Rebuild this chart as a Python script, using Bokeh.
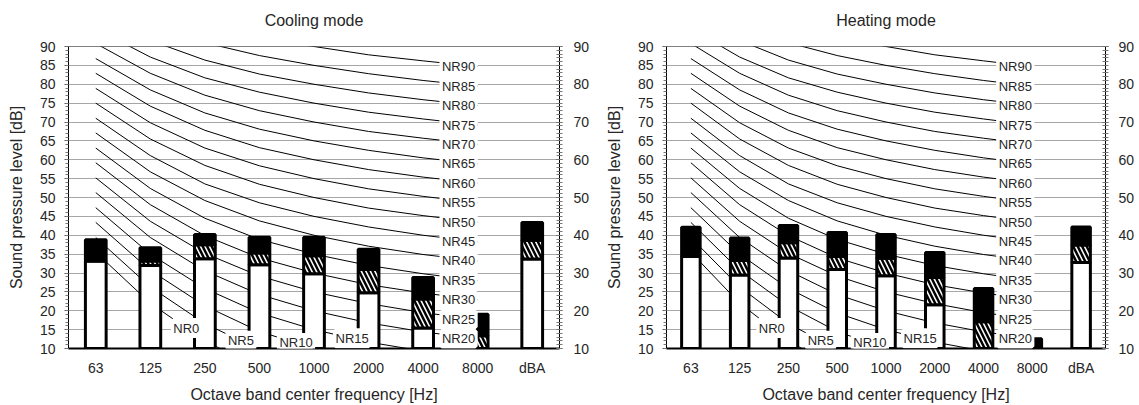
import numpy as np
from bokeh.plotting import figure
from bokeh.layouts import row
from bokeh.models import (FactorRange, Range1d, LinearAxis, SingleIntervalTicker,
                          ColumnDataSource, LabelSet, Title)
from bokeh.core.properties import value
from bokeh.embed import file_html
from bokeh.resources import INLINE

# ---------------- data ----------------
bands = ["63", "125", "250", "500", "1000", "2000", "4000", "8000", "dBA"]
octave_bands = ["63", "125", "250", "500", "1000", "2000", "4000", "8000"]

# Cooling mode: white part top, hatched part top, black part top [dB]
cool_low = [33.2, 32.0, 33.8, 32.2, 29.8, 24.8, 15.4, 10.0, 33.7]
cool_mid = [33.2, 33.2, 37.5, 35.3, 34.6, 30.9, 23.1, 13.4, 38.7]
cool_high = [38.8, 36.7, 40.2, 39.5, 39.5, 36.3, 28.8, 19.1, 43.4]

# Heating mode
heat_low = [34.4, 29.5, 34.0, 30.9, 29.3, 21.6, 10.0, 10.0, 32.8]
heat_mid = [34.4, 33.3, 38.0, 34.4, 33.9, 28.8, 17.1, 10.0, 37.4]
heat_high = [42.1, 39.3, 42.6, 40.7, 40.2, 35.4, 25.9, 12.6, 42.2]

# NR curves (octave band levels 63 Hz ... 8 kHz)
nr_levels = [0, 5, 10, 15, 20, 25, 30, 35, 40, 45, 50, 55, 60, 65, 70, 75, 80, 85, 90]
nr0 = [35.5, 22.0, 12.0, 4.8, 0.0, -3.5, -6.1, -8.0]
nr5 = [39.4, 26.3, 16.6, 9.7, 5.0, 1.6, -1.0, -2.8]
nr10 = [43.4, 30.7, 21.3, 14.5, 10.0, 6.6, 4.2, 2.3]
nr15 = [47.3, 35.0, 25.9, 19.4, 15.0, 11.7, 9.3, 7.4]
nr20 = [51.3, 39.4, 30.6, 24.3, 20.0, 16.8, 14.4, 12.6]
nr25 = [55.2, 43.7, 35.2, 29.2, 25.0, 21.9, 19.5, 17.7]
nr30 = [59.2, 48.1, 39.9, 34.0, 30.0, 26.9, 24.7, 22.9]
nr35 = [63.1, 52.4, 44.5, 38.9, 35.0, 32.0, 29.8, 28.0]
nr40 = [67.1, 56.8, 49.2, 43.8, 40.0, 37.1, 34.9, 33.2]
nr45 = [71.0, 61.1, 53.6, 48.6, 45.0, 42.2, 40.0, 38.3]
nr50 = [75.0, 65.5, 58.5, 53.5, 50.0, 47.2, 45.2, 43.5]
nr55 = [78.9, 69.8, 63.1, 58.4, 55.0, 52.3, 50.3, 48.6]
nr60 = [82.9, 74.2, 67.8, 63.2, 60.0, 57.4, 55.4, 53.8]
nr65 = [86.8, 78.5, 72.4, 68.1, 65.0, 62.5, 60.5, 58.9]
nr70 = [90.8, 82.9, 77.1, 73.0, 70.0, 67.5, 65.7, 64.1]
nr75 = [94.7, 87.2, 81.7, 77.9, 75.0, 72.6, 70.8, 69.2]
nr80 = [98.7, 91.6, 86.4, 82.7, 80.0, 77.7, 75.9, 74.4]
nr85 = [102.6, 95.9, 91.0, 87.6, 85.0, 82.8, 81.0, 79.5]
nr90 = [106.6, 100.3, 95.7, 92.5, 90.0, 87.8, 86.2, 84.7]
nr_curves = [nr0, nr5, nr10, nr15, nr20, nr25, nr30, nr35, nr40, nr45,
             nr50, nr55, nr60, nr65, nr70, nr75, nr80, nr85, nr90]

# label placement (categorical synthetic coordinates)
low_label_x = [2.16, 3.16, 4.17, 5.20]   # NR0..NR15
high_label_x = 7.15                      # NR20..NR90

FONT = "Liberation Sans"
TXT = "#262626"
Y0, Y1 = 10, 90


def make_panel(title, low, mid, high, width, height, mb, xl_standoff, xa_standoff,
               ra_standoff, title_gap):
    p = figure(x_range=FactorRange(*bands), y_range=Range1d(Y0, Y1),
               width=width, height=height, output_backend="svg",
               toolbar_location=None, title=None,
               min_border_left=mb[0], min_border_right=mb[1],
               min_border_top=mb[2], min_border_bottom=mb[3])
    p.background_fill_color = "white"
    p.border_fill_color = "white"
    p.outline_line_color = "#808080"

    # title: an empty spacer panel next to the frame, then the title text
    p.add_layout(Title(text=" ", text_font_size="1px", standoff=title_gap), "above")
    p.add_layout(Title(text=title, align="center", text_font=FONT,
                       text_font_size="16px", text_font_style="normal",
                       text_color=TXT, standoff=0), "above")

    # y axis (left)
    ya = p.yaxis[0]
    ya.ticker = SingleIntervalTicker(interval=5, num_minor_ticks=5)
    ya.axis_label = "Sound pressure level [dB]"
    ya.axis_label_text_font = FONT
    ya.axis_label_text_font_size = "16px"
    ya.axis_label_text_font_style = "normal"
    ya.axis_label_text_color = TXT
    ya.axis_label_standoff = 12
    ya.major_label_text_font = FONT
    ya.major_label_text_font_size = "14px"
    ya.major_label_text_color = TXT
    ya.major_label_standoff = 9
    ya.axis_line_color = "black"
    ya.major_tick_line_color = "#555555"
    ya.minor_tick_line_color = "#777777"
    ya.major_tick_in = 0
    ya.major_tick_out = 4
    ya.minor_tick_in = 0
    ya.minor_tick_out = 3

    # right axis
    ra = LinearAxis(ticker=SingleIntervalTicker(interval=10, num_minor_ticks=10))
    ra.major_label_text_font = FONT
    ra.major_label_text_font_size = "14px"
    ra.major_label_text_color = TXT
    ra.major_label_standoff = ra_standoff
    ra.axis_line_color = "black"
    ra.major_tick_line_color = "#555555"
    ra.minor_tick_line_color = "#777777"
    ra.major_tick_in = 3
    ra.major_tick_out = 3
    ra.minor_tick_in = 3
    ra.minor_tick_out = 3
    p.add_layout(ra, "right")

    # x axis
    xa = p.xaxis[0]
    xa.axis_label = "Octave band center frequency [Hz]"
    xa.axis_label_text_font = FONT
    xa.axis_label_text_font_size = "16px"
    xa.axis_label_text_font_style = "normal"
    xa.axis_label_text_color = TXT
    xa.axis_label_standoff = xa_standoff
    xa.major_label_text_font = FONT
    xa.major_label_text_font_size = "14px"
    xa.major_label_text_color = TXT
    xa.major_label_standoff = xl_standoff
    xa.major_tick_line_color = None
    xa.minor_tick_line_color = None
    xa.major_tick_out = 0
    xa.minor_tick_out = 0
    xa.major_tick_in = 0
    xa.minor_tick_in = 0
    xa.axis_line_color = "black"
    xa.axis_line_width = 2

    p.xgrid.grid_line_color = None
    p.ygrid.ticker = SingleIntervalTicker(interval=5)
    p.ygrid.grid_line_color = "#a6a6a6"
    p.ygrid.grid_line_width = 1

    # NR curves
    for vals in nr_curves:
        p.line(x=octave_bands, y=vals, line_color="black", line_width=1)

    # bars: white (bottom), hatched (middle), black (top)
    src = ColumnDataSource(dict(band=bands, base=[Y0] * len(bands),
                                low=low, mid=mid, high=high))
    bw = 0.38
    p.vbar(x="band", bottom="base", top="low", width=bw, source=src,
           fill_color="white", line_color="black", line_width=3)
    p.vbar(x="band", bottom="low", top="mid", width=bw, source=src,
           fill_color="white", hatch_pattern="\\", hatch_color="black",
           hatch_weight=2.5, hatch_scale=9, line_color="black", line_width=3)
    p.vbar(x="band", bottom="mid", top="high", width=bw, source=src,
           fill_color="black", line_color="black", line_width=3)

    # NR labels
    oct_x = np.arange(len(octave_bands)) + 0.5
    lx, ly, lt = [], [], []
    for lev, vals, xx in zip(nr_levels[:4], nr_curves[:4], low_label_x):
        lx.append(xx)
        ly.append(float(np.interp(xx, oct_x, vals)))
        lt.append("NR%d" % lev)
    for lev, vals in zip(nr_levels[4:], nr_curves[4:]):
        lx.append(high_label_x)
        ly.append(vals[-1])
        lt.append("NR%d" % lev)
    lsrc = ColumnDataSource(dict(x=lx, y=ly, t=lt))
    labels = LabelSet(x="x", y="y", text="t", source=lsrc,
                      text_align="center", text_baseline="middle",
                      text_font=value(FONT), text_font_size=value("13px"),
                      text_color=value(TXT),
                      background_fill_color=value("white"),
                      border_line_color=value("white"), border_line_width=value(5))
    p.add_layout(labels)
    return p


p1 = make_panel("Cooling mode", cool_low, cool_mid, cool_high,
                width=596, height=405, mb=(68, 37, 46, 57),
                xl_standoff=11, xa_standoff=7, ra_standoff=11, title_gap=15)
p2 = make_panel("Heating mode", heat_low, heat_mid, heat_high,
                width=541, height=405, mb=(70, 28, 46, 57),
                xl_standoff=11, xa_standoff=7, ra_standoff=10, title_gap=15)

layout = row(p1, p2)
open("out.html", "w").write(file_html(layout, INLINE))
